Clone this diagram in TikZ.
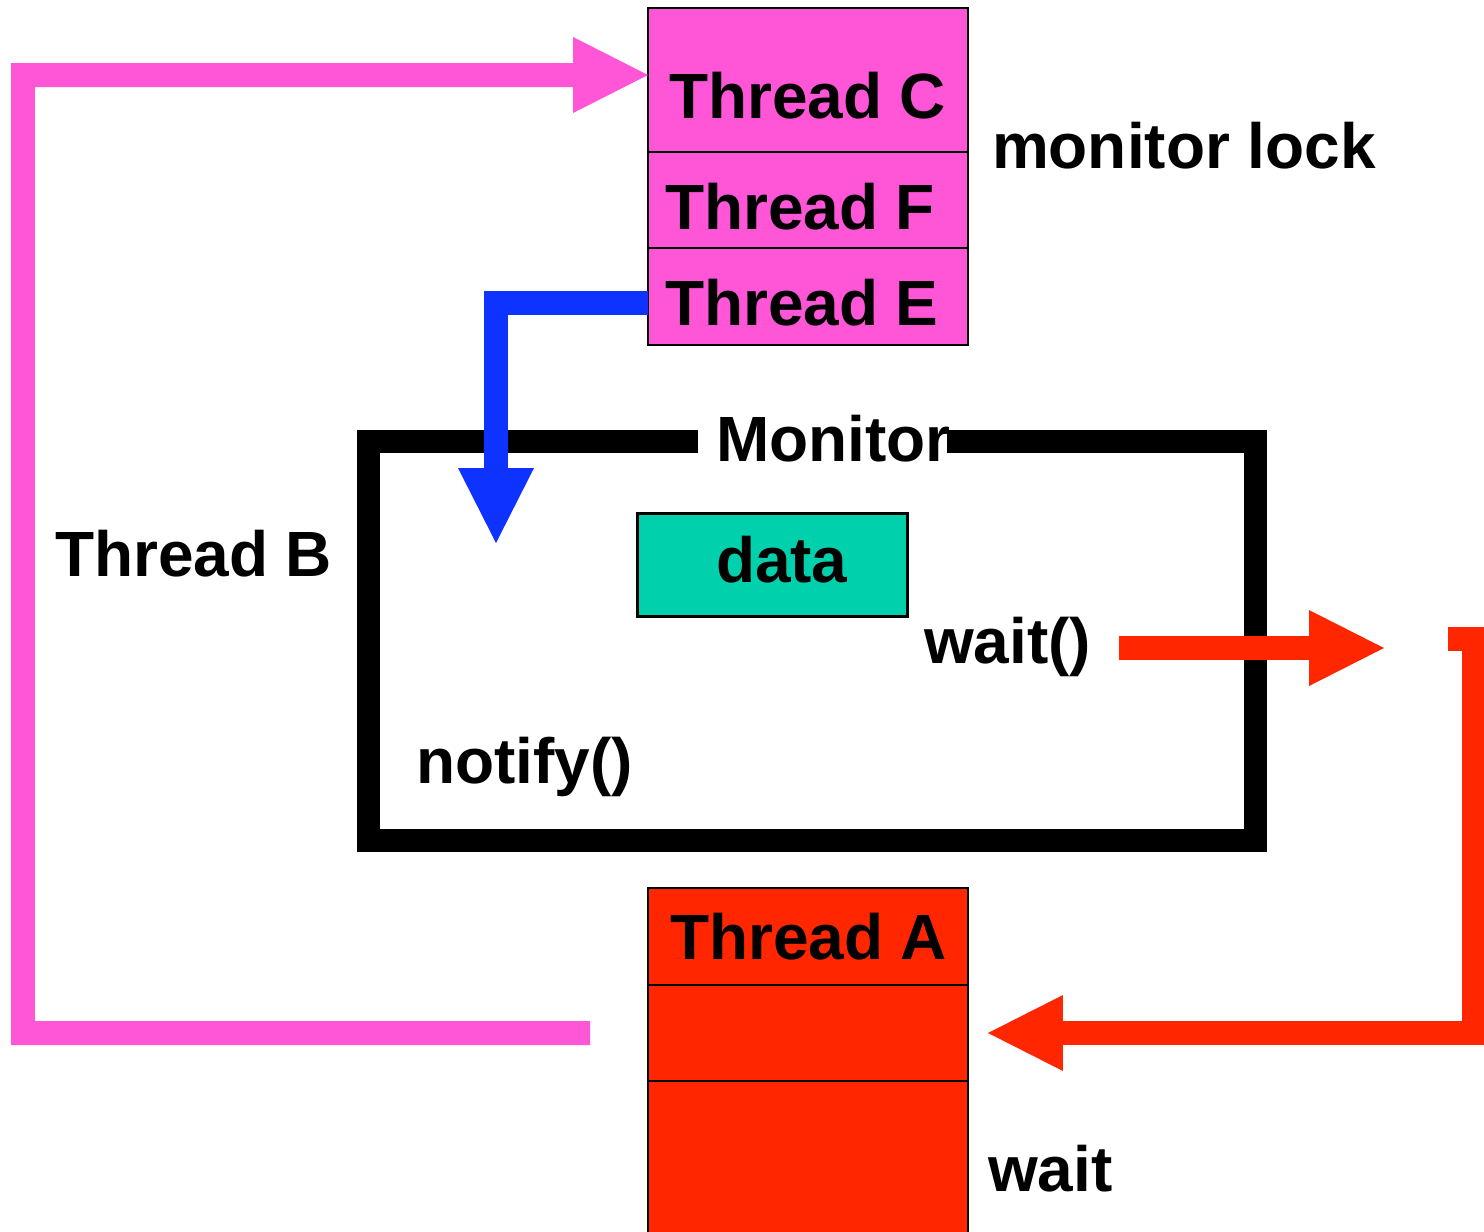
\documentclass[tikz,border=0pt]{standalone}
\usepackage{fontspec}
\setmainfont{Liberation Sans}
\usetikzlibrary{arrows.meta}
\definecolor{pinkc}{RGB}{255,85,215}
\definecolor{redc}{RGB}{255,38,0}
\definecolor{bluec}{RGB}{14,50,255}
\definecolor{tealc}{RGB}{0,209,172}
\begin{document}
\begin{tikzpicture}[x=0.02cm,y=-0.02cm,
  lbl/.style={anchor=base west, inner sep=0, outer sep=0, font=\bfseries\fontsize{36.4pt}{40pt}\selectfont},
  cell/.style={draw=black, line width=1.2pt, inner sep=0, outer sep=0, minimum width=6.4cm},
  fat/.style={line width=0.48cm},
  tip/.style={-{Triangle[length=1.5cm 0 0, width=1.52cm 0 0, line width=0pt]}},
  monline/.style={line width=0.46cm, black}]
\useasboundingbox (0,0) rectangle (1484,1231);
% monitor lock stack
\node[cell, fill=pinkc, minimum height=2.88cm] (C) at (808,80) {};
\node[cell, fill=pinkc, minimum height=1.92cm] (F) at (808,200) {};
\node[cell, fill=pinkc, minimum height=1.94cm] (E) at (808,296.5) {};
\node[lbl] (tC) at (669,118) {Thread C};
\node[lbl] (tF) at (665,229) {Thread F};
\node[lbl] (tE) at (665,325) {Thread E};
\node[lbl] (ml) at (992,168) {monitor lock};
% wait stack
\node[cell, fill=redc, minimum height=1.94cm] (A1) at (808,936.5) {};
\node[cell, fill=redc, minimum height=1.92cm] (A2) at (808,1033) {};
\node[cell, fill=redc, minimum height=3.18cm] (A3) at (808,1160.5) {};
\node[lbl] (tA) at (670,959) {Thread A};
\node[lbl] (wl) at (988,1191) {wait};
% monitor
\draw[monline] (698,441) -- (368,441) -- (368,840) -- (1255,840) -- (1255,441) -- (947,441);
\node[draw=black, line width=0.06cm, fill=tealc, inner sep=0, minimum width=5.42cm, minimum height=2.06cm] (D) at (772.5,564.5) {};
\node[lbl] (td) at (716,582) {data};
\node[lbl] (tw) at (924,663) {wait()};
\node[lbl] (tn) at (416,783) {notify()};
\node[lbl] (tB) at (55,576) {Thread B};
% connectors
\coordinate (pinkstart) at (590,1033);
\coordinate (bluetip) at (496,543);
\coordinate (ws) at (1119,648);
\coordinate (we) at (1384,648);
\coordinate (rs) at (1448,639);
\draw[fat, pinkc, tip] (pinkstart) -- (23,1033) -- (23,75) -- ([yshift=0.1cm]C.west);
\draw[fat, bluec, tip] ([yshift=-0.13cm]E.west) -| (bluetip);
\draw[fat, redc, tip] (ws) -- (we);
\draw[fat, redc, tip] (rs) -- (1474,639) |- ([xshift=0.4cm]A2.east);
\node[lbl] (tM) at (716,461) {Monitor};
\end{tikzpicture}
\end{document}
